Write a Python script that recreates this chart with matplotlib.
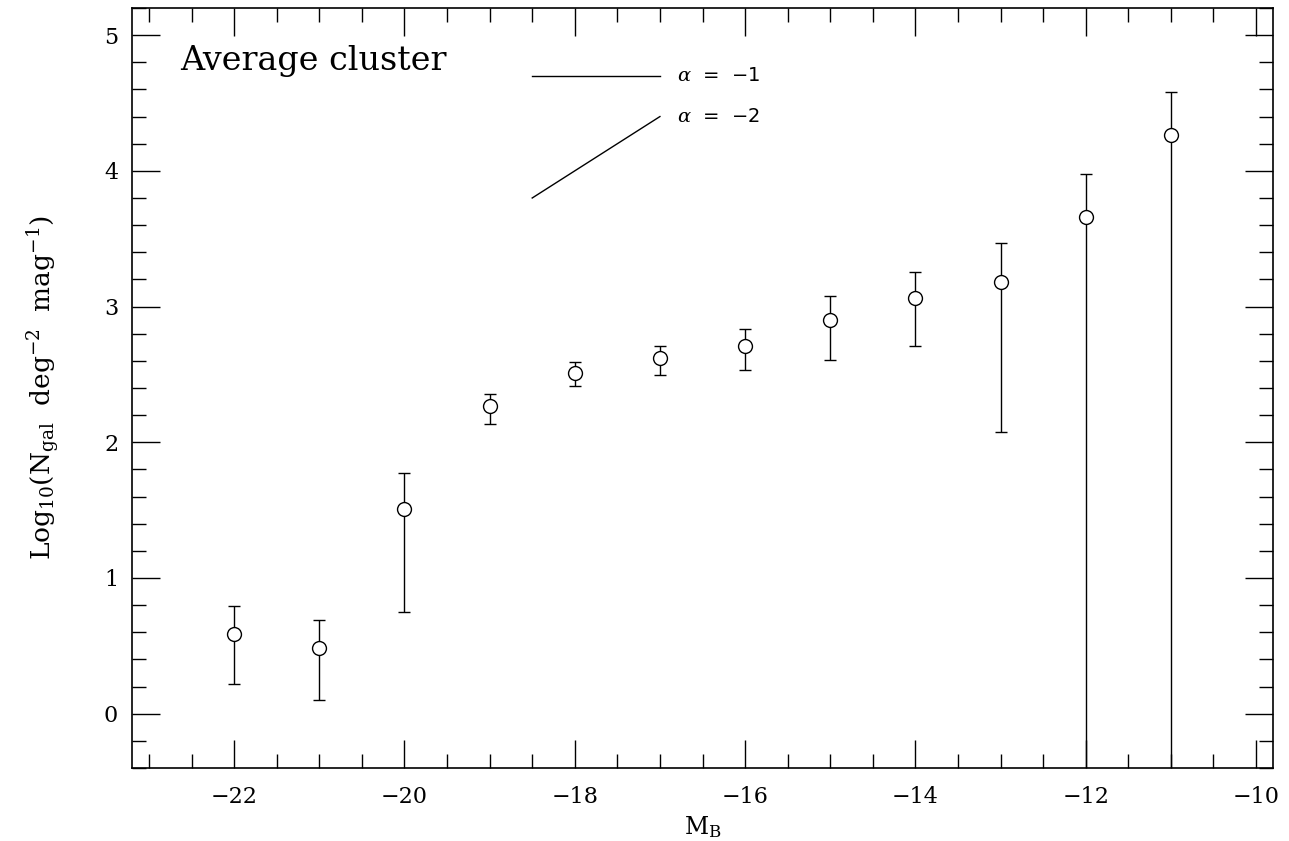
import numpy as np
import matplotlib
matplotlib.use("Agg")
import matplotlib.pyplot as plt
from matplotlib.ticker import MultipleLocator

# luminosity function of the average cluster
mag = [-22, -21, -20, -19, -18, -17, -16, -15, -14, -13, -12, -11]
logn = [0.59, 0.485, 1.51, 2.265, 2.51, 2.62, 2.71, 2.90, 3.066, 3.184, 3.662, 4.265]
err_hi = [0.79, 0.687, 1.775, 2.358, 2.591, 2.711, 2.834, 3.079, 3.257, 3.466, 3.976, 4.584]
err_lo = [0.216, 0.098, 0.746, 2.135, 2.412, 2.498, 2.535, 2.603, 2.711, 2.079, -1.0, -1.0]

# slope guide lines (alpha = -1, alpha = -2)
guide_x = [-18.5, -17.0]
guide_a1 = [4.70, 4.70]
guide_a2 = [3.80, 4.40]

plt.rcParams['font.family'] = ['DejaVu Serif']
plt.rcParams['mathtext.fontset'] = 'dejavuserif'

fig = plt.figure(figsize=(12.89, 8.41), dpi=100)
ax = fig.add_axes([0.1024, 0.0868, 0.8852, 0.9037])

logn = np.array(logn)
yerr = [logn - np.array(err_lo), np.array(err_hi) - logn]
ax.errorbar(mag, logn, yerr=yerr, fmt='o', mfc='white', mec='black', mew=1.0,
            ms=10, ecolor='black', elinewidth=1.0, capsize=4.3, capthick=1.0,
            color='black')

ax.plot(guide_x, guide_a1, color='black', lw=1.0)
ax.plot(guide_x, guide_a2, color='black', lw=1.0)

ax.text(-16.8, 4.70, r'$\alpha$  =  $-$1', fontsize=14, va='center', ha='left',
        family='DejaVu Sans')
ax.text(-16.8, 4.40, r'$\alpha$  =  $-$2', fontsize=14, va='center', ha='left',
        family='DejaVu Sans')
ax.text(-22.63, 4.74, 'Average cluster', fontsize=24, va='baseline', ha='left')

ax.set_xlim(-23.2, -9.8)
ax.set_ylim(-0.4, 5.2)
ax.xaxis.set_major_locator(MultipleLocator(2))
ax.xaxis.set_minor_locator(MultipleLocator(0.5))
ax.yaxis.set_major_locator(MultipleLocator(1))
ax.yaxis.set_minor_locator(MultipleLocator(0.2))
ax.tick_params(which='both', direction='in', top=True, right=True, width=1.0,
               labelsize=16, colors='black')
ax.tick_params(which='major', length=20, pad=10)
ax.tick_params(axis='x', which='major', pad=13)
ax.tick_params(which='minor', length=10)
for s in ax.spines.values():
    s.set_linewidth(1.2)

ax.set_xlabel(r'M$_{\rm B}$', fontsize=17, labelpad=4)
ax.set_ylabel(r'Log$_{10}$(N$_{\rm gal}$  deg$^{-2}$  mag$^{-1}$)', fontsize=19,
              labelpad=30)

fig.savefig('out.png', dpi=100)
